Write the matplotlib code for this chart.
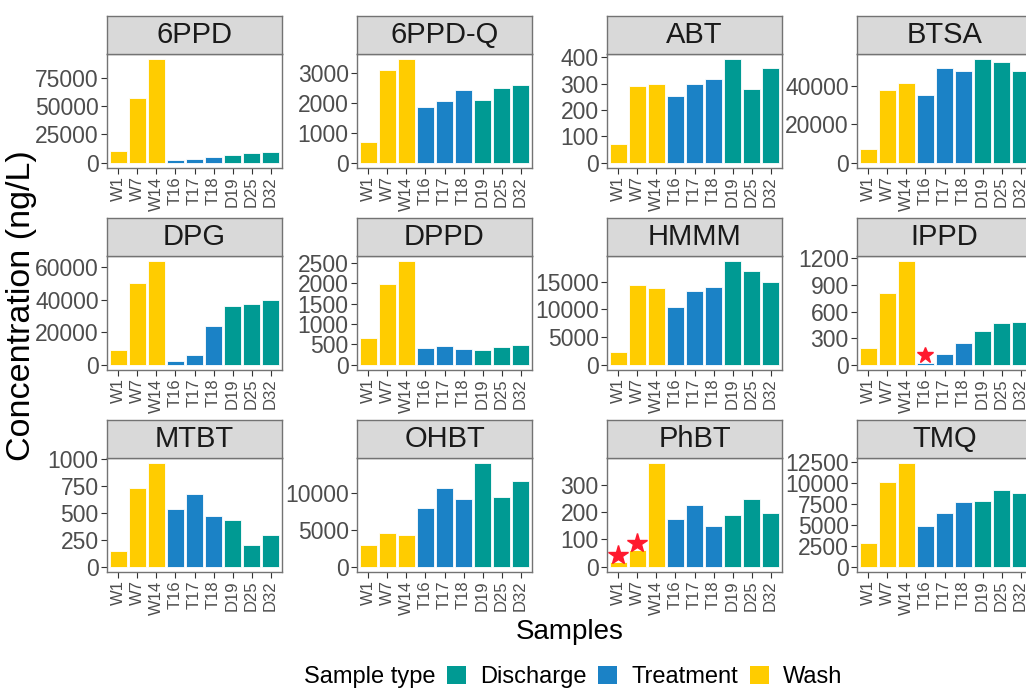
import numpy as np
import matplotlib
matplotlib.use('Agg')
import matplotlib.pyplot as plt
from matplotlib.patches import Patch

plt.rcParams['font.family'] = ['Liberation Sans', 'DejaVu Sans']

# samples and their type
samples = ['W1', 'W7', 'W14', 'T16', 'T17', 'T18', 'D19', 'D25', 'D32']
sample_types = ['Wash'] * 3 + ['Treatment'] * 3 + ['Discharge'] * 3
type_colors = {'Discharge': '#009A93', 'Treatment': '#1B82C6', 'Wash': '#FFCC00'}

compounds = ['6PPD', '6PPD-Q', 'ABT', 'BTSA', 'DPG', 'DPPD',
             'HMMM', 'IPPD', 'MTBT', 'OHBT', 'PhBT', 'TMQ']

# concentrations (ng/L)
ppd6 = [10400, 57200, 91400, 2300, 3700, 5200, 6600, 8900, 9500]
ppd6_q = [700, 3090, 3460, 1880, 2050, 2420, 2110, 2500, 2610]
abt = [73, 291, 297, 253, 300, 316, 393, 281, 360]
btsa = [6950, 38100, 41700, 35400, 49200, 47800, 53900, 52500, 47500]
dpg = [9200, 50400, 63600, 2600, 5800, 23800, 36200, 37200, 40000]
dppd = [665, 1995, 2548, 417, 465, 393, 353, 433, 497]
hmmm = [2240, 14400, 13900, 10350, 13400, 14000, 18700, 16900, 14950]
ippd = [187, 808, 1168, 26, 121, 246, 378, 474, 481]
mtbt = [144, 730, 961, 535, 673, 471, 432, 201, 294]
ohbt = [3030, 4600, 4300, 7940, 10750, 9170, 14080, 9520, 11670]
phbt = [19, 63, 378, 174, 225, 150, 189, 249, 197]
tmq = [2850, 10040, 12310, 4850, 6420, 7730, 7850, 9150, 8730]
all_values = [ppd6, ppd6_q, abt, btsa, dpg, dppd, hmmm, ippd, mtbt, ohbt, phbt, tmq]

# y tick breaks per panel
y_breaks = [
    [0, 25000, 50000, 75000],
    [0, 1000, 2000, 3000],
    [0, 100, 200, 300, 400],
    [0, 20000, 40000],
    [0, 20000, 40000, 60000],
    [0, 500, 1000, 1500, 2000, 2500],
    [0, 5000, 10000, 15000],
    [0, 300, 600, 900, 1200],
    [0, 250, 500, 750, 1000],
    [0, 5000, 10000],
    [0, 100, 200, 300],
    [0, 2500, 5000, 7500, 10000, 12500],
]

# red star flags: (compound, sample, y)
star_compound = ['IPPD', 'PhBT', 'PhBT']
star_sample = ['T16', 'W1', 'W7']
star_y = [110, 42, 88]
star_size = [12, 15, 15]

W, H = 1026, 690
fig = plt.figure(figsize=(W / 100, H / 100), dpi=100)

border = '#737373'
x = np.arange(1, len(samples) + 1)
colors = [type_colors[t] for t in sample_types]

for i, name in enumerate(compounds):
    r, c = divmod(i, 4)
    left = 107 + 250 * c
    top = 16 + 202 * r
    ax = fig.add_axes([left / W, 1 - (top + 38 + 114) / H, 175 / W, 114 / H])
    sax = fig.add_axes([left / W, 1 - (top + 38) / H, 175 / W, 38 / H])

    vals = all_values[i]
    ax.bar(x, vals, width=0.9, color=colors, edgecolor='white', linewidth=0.6)
    for cmp, smp, sy, ms in zip(star_compound, star_sample, star_y, star_size):
        if cmp == name:
            ax.plot(samples.index(smp) + 1, sy, marker='*', color='#FF1A2E',
                    markersize=ms, linestyle='none')

    vmax = max(vals)
    ax.set_ylim(-0.05 * vmax, 1.05 * vmax)
    ax.set_xlim(0.4, len(samples) + 0.6)
    ax.set_yticks(y_breaks[i])
    ax.set_yticklabels([str(t) for t in y_breaks[i]])
    ax.set_xticks(x)
    ax.set_xticklabels(samples, rotation=90)
    ax.tick_params(axis='both', length=4, width=0.8, color='#333333',
                   labelcolor='#4D4D4D', pad=2)
    ax.tick_params(axis='y', labelsize=16.5)
    ax.tick_params(axis='x', labelsize=12)
    for sp in ax.spines.values():
        sp.set_color(border)
        sp.set_linewidth(1.0)

    # facet strip
    sax.set_facecolor('#D9D9D9')
    sax.set_xticks([])
    sax.set_yticks([])
    for sp in sax.spines.values():
        sp.set_color(border)
        sp.set_linewidth(1.0)
    sax.text(0.5, 0.5, name, ha='center', va='center', fontsize=21,
             color='#1A1A1A', transform=sax.transAxes)

fig.text(22 / W, 1 - 306 / H, 'Concentration (ng/L)', rotation=90,
         ha='center', va='center', fontsize=24.5)
fig.text(570 / W, 1 - 632 / H, 'Samples', ha='center', va='center', fontsize=20)

legend_order = ['Discharge', 'Treatment', 'Wash']
handles = [Patch(facecolor=type_colors[t], edgecolor='none') for t in legend_order]
fig.text(436 / W, 1 - 677 / H, 'Sample type', ha='right', va='center', fontsize=17)
fig.legend(handles, legend_order, loc='center left', bbox_to_anchor=(447 / W, 1 - 677 / H),
           ncol=3, frameon=False, fontsize=17, handlelength=0.8, handleheight=0.8,
           handletextpad=0.6, columnspacing=0.5, borderpad=0, borderaxespad=0)

fig.savefig('out.png', dpi=100)
